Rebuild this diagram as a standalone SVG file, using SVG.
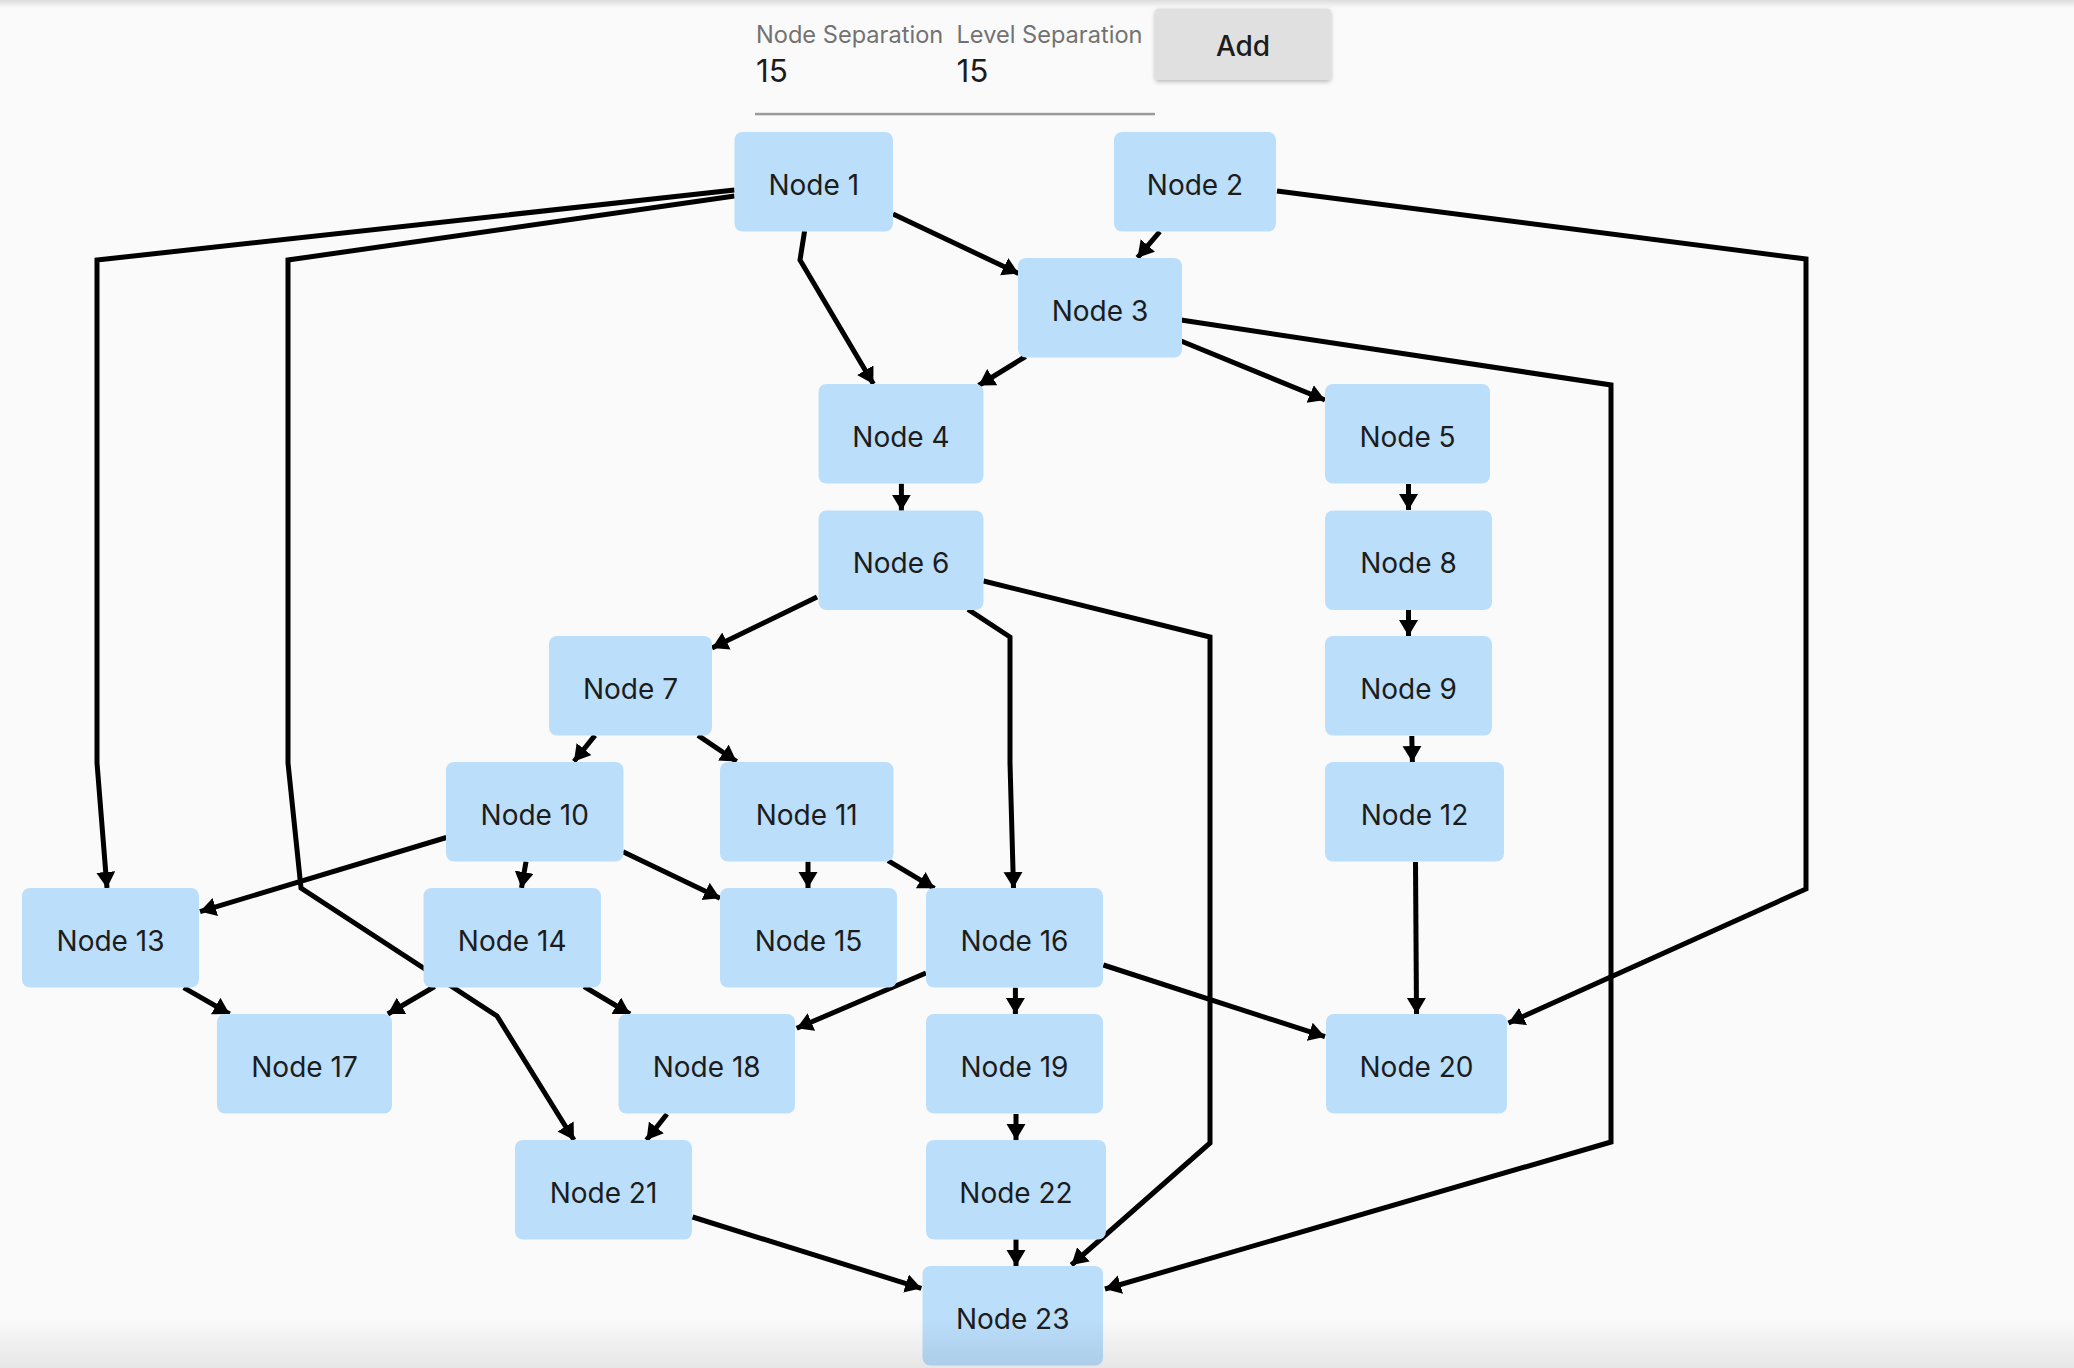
<svg xmlns="http://www.w3.org/2000/svg" width="2074" height="1368" viewBox="0 0 2074 1368">
<defs>
<style>
.bg{fill:#FAFAFA}
.node rect{fill:#BBDEFB}
.node text{font-family:Inter,"Noto Sans","Liberation Sans",sans-serif;font-size:28px;fill:#1c1c1c;text-anchor:middle}
.edge{fill:none;stroke:#000;stroke-width:5;stroke-linejoin:miter;marker-end:url(#arrow)}
.lbl{font-family:Inter,"Noto Sans","Liberation Sans",sans-serif;font-size:23.6px;fill:#727272}
.val{font-family:Inter,"Noto Sans","Liberation Sans",sans-serif;font-size:31.5px;fill:#1c1c1c}
.btn{font-family:Inter,"Noto Sans","Liberation Sans",sans-serif;font-size:28px;font-weight:500;fill:#1c1c1c;text-anchor:middle}
</style>
<marker id="arrow" markerUnits="userSpaceOnUse" markerWidth="18" markerHeight="20" refX="16" refY="9.5" orient="auto">
<path d="M0,0 L16,9.5 L0,19 z" fill="#000"/>
</marker>
<linearGradient id="topShade" x1="0" y1="0" x2="0" y2="1">
<stop offset="0" stop-color="#000" stop-opacity="0.12"/>
<stop offset="1" stop-color="#000" stop-opacity="0"/>
</linearGradient>
<linearGradient id="botShade" x1="0" y1="0" x2="0" y2="1">
<stop offset="0" stop-color="#000" stop-opacity="0"/>
<stop offset="1" stop-color="#000" stop-opacity="0.08"/>
</linearGradient>
<filter id="btnShadow" x="-10%" y="-20%" width="120%" height="150%">
<feDropShadow dx="0" dy="2" stdDeviation="2" flood-color="#000" flood-opacity="0.25"/>
</filter>
</defs>
<rect class="bg" x="0" y="0" width="2074" height="1368"/>

<g id="controls">
<text class="lbl" x="756" y="43.3">Node Separation</text>
<text class="val" x="756" y="81.7">15</text>
<text class="lbl" x="956.5" y="43.3">Level Separation</text>
<text class="val" x="956.5" y="81.7">15</text>
<rect x="755" y="112.8" width="400" height="2.5" fill="#9a9a9a"/>
<rect x="1155" y="8.5" width="176" height="71.5" rx="4" fill="#E0E0E0" filter="url(#btnShadow)"/>
<text class="btn" x="1243" y="56">Add</text>
</g>

<g id="connectors">
<polyline class="edge" points="734.5,190 97,260 97,763 107,888"/>
<polyline class="edge" points="734.5,196 288,260 288,763 301,888 497,1016 574,1140"/>
<polyline class="edge" points="893,214 1018.6,273.5"/>
<polyline class="edge" points="804.6,231 800,260 873.4,384"/>
<polyline class="edge" points="1159.8,231.7 1137.5,257.7"/>
<polyline class="edge" points="1277,191 1806,259 1806,889 1508.5,1023"/>
<polyline class="edge" points="1025.6,356.5 978.6,385.5"/>
<polyline class="edge" points="1181,341 1325,400"/>
<polyline class="edge" points="1181,320 1611,385 1611,1142 1105,1289"/>
<polyline class="edge" points="901.4,483.7 901.4,510.7"/>
<polyline class="edge" points="1408.5,484 1408.5,510"/>
<polyline class="edge" points="817,597 712,648"/>
<polyline class="edge" points="968,609.4 1010,637 1010,763 1013.5,888"/>
<polyline class="edge" points="983.5,581 1210,637 1210,1143 1071.4,1265"/>
<polyline class="edge" points="595,735.4 574,761.5"/>
<polyline class="edge" points="698,735.4 736.6,761.5"/>
<polyline class="edge" points="1408.5,610 1408.5,636"/>
<polyline class="edge" points="1411.8,736 1412.4,762"/>
<polyline class="edge" points="446.4,837.5 200,911.6"/>
<polyline class="edge" points="526,861.7 521.5,888"/>
<polyline class="edge" points="623,851.7 720,898.3"/>
<polyline class="edge" points="808,861.7 808,888"/>
<polyline class="edge" points="888,860.7 934.4,888.3"/>
<polyline class="edge" points="1415.5,862 1416.5,1014"/>
<polyline class="edge" points="183.7,987.7 229.6,1014"/>
<polyline class="edge" points="434.7,986.5 387.8,1014"/>
<polyline class="edge" points="584,986.5 630,1014"/>
<polyline class="edge" points="926,973 796.7,1028.3"/>
<polyline class="edge" points="1015.4,987.7 1015.4,1014"/>
<polyline class="edge" points="1103.4,965 1325,1036.7"/>
<polyline class="edge" points="667,1114 646.5,1140"/>
<polyline class="edge" points="1016,1114 1016,1140"/>
<polyline class="edge" points="692.6,1217 921.3,1288.3"/>
<polyline class="edge" points="1016,1239.3 1016,1266"/>
</g>

<g id="node1" class="node"><rect x="734.5" y="132" width="158.5" height="99.5" rx="8"/><text x="813.8" y="194.5">Node 1</text></g>
<g id="node2" class="node"><rect x="1114" y="132" width="162" height="99.5" rx="8"/><text x="1195" y="194.5">Node 2</text></g>
<g id="node3" class="node"><rect x="1018" y="258" width="164" height="99.5" rx="8"/><text x="1100" y="320.5">Node 3</text></g>
<g id="node4" class="node"><rect x="818.5" y="384" width="165" height="99.5" rx="8"/><text x="901" y="446.5">Node 4</text></g>
<g id="node5" class="node"><rect x="1325" y="384" width="165" height="99.5" rx="8"/><text x="1407.5" y="446.5">Node 5</text></g>
<g id="node6" class="node"><rect x="818.5" y="510.5" width="165" height="99.5" rx="8"/><text x="901" y="573">Node 6</text></g>
<g id="node7" class="node"><rect x="549" y="636" width="163" height="99.5" rx="8"/><text x="630.5" y="698.5">Node 7</text></g>
<g id="node8" class="node"><rect x="1325" y="510.5" width="167" height="99.5" rx="8"/><text x="1408.5" y="573">Node 8</text></g>
<g id="node9" class="node"><rect x="1325" y="636" width="167" height="99.5" rx="8"/><text x="1408.5" y="698.5">Node 9</text></g>
<g id="node10" class="node"><rect x="446" y="762" width="177.5" height="99.5" rx="8"/><text x="534.7" y="824.5">Node 10</text></g>
<g id="node11" class="node"><rect x="720" y="762" width="173.5" height="99.5" rx="8"/><text x="806.7" y="824.5">Node 11</text></g>
<g id="node12" class="node"><rect x="1325" y="762" width="179" height="99.5" rx="8"/><text x="1414.5" y="824.5">Node 12</text></g>
<g id="node13" class="node"><rect x="22" y="888" width="177" height="99.5" rx="8"/><text x="110.5" y="950.5">Node 13</text></g>
<g id="node14" class="node"><rect x="423.5" y="888" width="177.5" height="99.5" rx="8"/><text x="512.2" y="950.5">Node 14</text></g>
<g id="node15" class="node"><rect x="720" y="888" width="177" height="99.5" rx="8"/><text x="808.5" y="950.5">Node 15</text></g>
<g id="node16" class="node"><rect x="926" y="888" width="177" height="99.5" rx="8"/><text x="1014.5" y="950.5">Node 16</text></g>
<g id="node17" class="node"><rect x="217" y="1014" width="175" height="99.5" rx="8"/><text x="304.5" y="1076.5">Node 17</text></g>
<g id="node18" class="node"><rect x="618.5" y="1014" width="176.5" height="99.5" rx="8"/><text x="706.7" y="1076.5">Node 18</text></g>
<g id="node19" class="node"><rect x="926" y="1014" width="177" height="99.5" rx="8"/><text x="1014.5" y="1076.5">Node 19</text></g>
<g id="node20" class="node"><rect x="1326" y="1014" width="181" height="99.5" rx="8"/><text x="1416.5" y="1076.5">Node 20</text></g>
<g id="node21" class="node"><rect x="515" y="1140" width="177" height="99.5" rx="8"/><text x="603.5" y="1202.5">Node 21</text></g>
<g id="node22" class="node"><rect x="926" y="1140" width="180" height="99.5" rx="8"/><text x="1016" y="1202.5">Node 22</text></g>
<g id="node23" class="node"><rect x="922.5" y="1266" width="180.5" height="99.5" rx="8"/><text x="1012.7" y="1328.5">Node 23</text></g>

<rect x="0" y="0" width="2074" height="8" fill="url(#topShade)"/>
<rect x="0" y="1318" width="2074" height="50" fill="url(#botShade)"/>
</svg>
